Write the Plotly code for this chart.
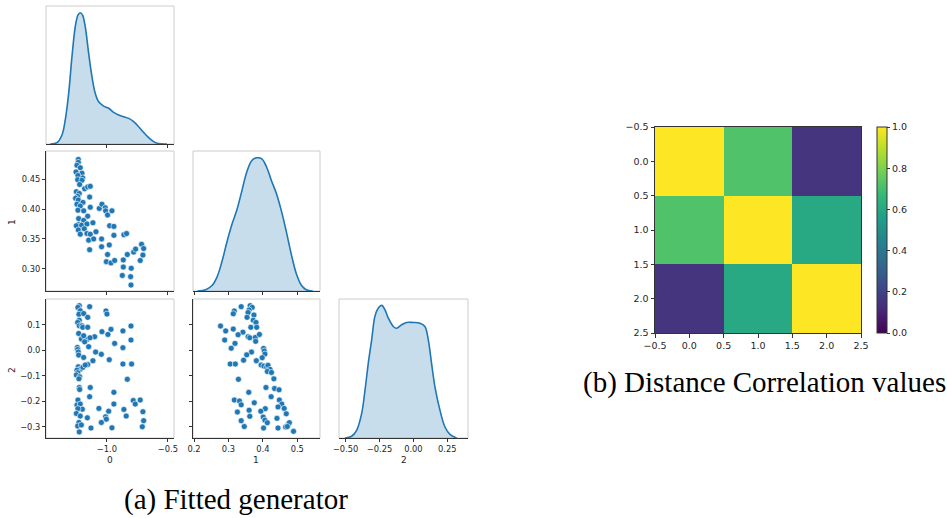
import plotly.graph_objects as go

# ---------------- data ----------------
# Pair plot, panel row 2 / col 1 : variable 0 (x) vs variable 1 (y)
p01_x0 = [-1.235, -1.235, -1.246, -1.219, -1.254, -1.205, -1.238, -1.199, -1.240, -1.205,
          -1.224, -1.183, -1.158, -1.137, -1.251, -1.227, -1.240, -1.257, -1.235, -1.142,
          -1.246, -1.197, -1.219, -1.238, -1.191, -1.137, -1.158, -1.232, -1.191, -1.232,
          -1.251, -1.208, -1.164, -1.115, -1.235, -1.219, -1.186, -1.164, -1.137, -1.150,
          -1.109, -1.090, -1.142, -1.063, -1.041, -1.014, -1.011, -0.995, -0.959, -0.978,
          -0.943, -0.943, -1.044, -1.044, -0.981, -0.995, -1.005, -0.967, -0.937, -0.861,
          -0.839, -0.866, -0.833, -0.866, -0.874, -0.801, -0.781, -0.765, -0.716, -0.699,
          -0.705, -0.727, -0.806, -0.803]
p01_x1 = [0.483, 0.478, 0.473, 0.469, 0.462, 0.460, 0.456, 0.452, 0.449, 0.448,
          0.441, 0.434, 0.437, 0.438, 0.429, 0.426, 0.421, 0.418, 0.415, 0.420,
          0.408, 0.411, 0.405, 0.398, 0.397, 0.403, 0.388, 0.384, 0.381, 0.374,
          0.372, 0.373, 0.375, 0.377, 0.365, 0.358, 0.367, 0.359, 0.358, 0.348,
          0.350, 0.362, 0.332, 0.401, 0.408, 0.402, 0.397, 0.390, 0.397, 0.372,
          0.371, 0.356, 0.350, 0.337, 0.340, 0.324, 0.312, 0.310, 0.314, 0.357,
          0.359, 0.315, 0.324, 0.303, 0.289, 0.301, 0.328, 0.333, 0.341, 0.334,
          0.323, 0.314, 0.287, 0.273]

# Pair plot, panel row 3 / col 1 : variable 0 (x) vs variable 2 (y)
p02_x0 = [-1.227, -1.238, -1.219, -1.230, -1.227, -1.240, -1.227, -1.205, -1.199, -1.232,
          -1.210, -1.164, -1.191, -1.150, -1.183, -1.243, -1.240, -1.235, -1.232, -1.191,
          -1.235, -1.219, -1.246, -1.240, -1.251, -1.224, -1.230, -1.197, -1.158, -1.227,
          -1.224, -1.238, -1.246, -1.219, -1.202, -1.238, -1.251, -1.219, -1.230, -1.240,
          -1.210, -1.227, -1.161, -1.142, -1.191, -1.158, -1.158, -1.101, -1.139, -1.178,
          -1.115, -1.093, -1.046, -1.041, -1.008, -1.000, -0.967, -0.992, -0.937, -0.981,
          -0.869, -0.869, -0.833, -0.869, -0.803, -0.803, -0.798, -1.137, -1.142, -0.943,
          -1.066, -0.986, -1.046, -1.011, -1.005, -0.959, -0.943, -0.861, -0.842, -0.784,
          -0.768, -0.727, -0.705, -0.699, -0.710, -1.131]
p02_x2 = [0.175, 0.168, 0.155, 0.141, 0.118, 0.109, 0.096, 0.096, 0.090, 0.066,
          0.044, 0.042, 0.057, 0.014, 0.033, 0.011, 0.003, -0.007, -0.019, -0.028,
          -0.065, -0.074, -0.078, -0.088, -0.097, -0.104, -0.112, -0.067, -0.056, -0.146,
          -0.154, -0.195, -0.215, -0.211, -0.231, -0.229, -0.248, -0.258, -0.283, -0.297,
          -0.293, -0.320, -0.265, 0.171, 0.144, 0.129, 0.090, 0.053, 0.049, -0.058,
          -0.041, -0.007, -0.016, 0.073, 0.154, 0.142, 0.082, 0.062, 0.027, -0.037,
          0.010, -0.054, -0.114, 0.076, 0.095, 0.040, -0.054, -0.146, -0.182, -0.165,
          -0.228, -0.239, -0.283, -0.261, -0.270, -0.304, -0.211, -0.232, -0.258, -0.197,
          -0.211, -0.195, -0.241, -0.276, -0.300, -0.305]

# Pair plot, panel row 3 / col 2 : variable 1 (x) vs variable 2 (y)
p12_x1 = [0.337, 0.317, 0.314, 0.363, 0.369, 0.360, 0.357, 0.374, 0.354, 0.372,
          0.380, 0.365, 0.382, 0.277, 0.292, 0.314, 0.342, 0.328, 0.357, 0.362,
          0.378, 0.390, 0.379, 0.289, 0.319, 0.308, 0.402, 0.404, 0.406, 0.398,
          0.367, 0.353, 0.344, 0.381, 0.305, 0.320, 0.395, 0.403, 0.411, 0.415,
          0.421, 0.413, 0.425, 0.432, 0.329, 0.409, 0.434, 0.447, 0.359, 0.424,
          0.317, 0.332, 0.337, 0.375, 0.448, 0.455, 0.462, 0.444, 0.407, 0.394,
          0.468, 0.326, 0.360, 0.362, 0.401, 0.406, 0.413, 0.441, 0.337, 0.346,
          0.402, 0.444, 0.466, 0.474, 0.477, 0.489, 0.471]
p12_x2 = [0.171, 0.154, 0.143, 0.175, 0.168, 0.158, 0.148, 0.138, 0.129, 0.118,
          0.109, 0.090, 0.090, 0.095, 0.076, 0.083, 0.071, 0.061, 0.053, 0.049,
          0.050, 0.062, 0.035, 0.040, 0.027, 0.008, 0.007, -0.003, -0.015, -0.029,
          -0.007, -0.018, -0.039, -0.041, -0.054, -0.054, -0.058, -0.062, -0.066, -0.059,
          -0.075, -0.083, -0.087, -0.112, -0.114, -0.146, -0.150, -0.155, -0.165, -0.182,
          -0.195, -0.199, -0.214, -0.206, -0.195, -0.211, -0.228, -0.222, -0.229, -0.239,
          -0.249, -0.242, -0.235, -0.259, -0.262, -0.274, -0.284, -0.267, -0.276, -0.299,
          -0.305, -0.305, -0.301, -0.290, -0.284, -0.318, -0.299]

# Diagonal KDE curves (relative density, peak = 1)
kde0_x = [-1.464, -1.41, -1.369, -1.342, -1.314, -1.287, -1.26, -1.238, -1.219, -1.20,
          -1.178, -1.15, -1.123, -1.096, -1.068, -1.027, -0.986, -0.945, -0.904, -0.863,
          -0.822, -0.781, -0.74, -0.70, -0.658, -0.617, -0.577, -0.508]
kde0_d = [0.0, 0.01, 0.069, 0.183, 0.386, 0.665, 0.893, 0.982, 1.0, 0.982,
          0.893, 0.69, 0.513, 0.386, 0.322, 0.289, 0.272, 0.241, 0.221, 0.208,
          0.195, 0.17, 0.132, 0.089, 0.048, 0.018, 0.003, 0.0]

kde1_x = [0.21, 0.234, 0.253, 0.267, 0.281, 0.296, 0.31, 0.325, 0.339, 0.353,
          0.368, 0.382, 0.397, 0.411, 0.425, 0.44, 0.454, 0.468, 0.483, 0.497,
          0.512, 0.526, 0.545]
kde1_d = [0.0, 0.01, 0.043, 0.106, 0.22, 0.372, 0.499, 0.613, 0.752, 0.891,
          0.98, 1.0, 0.992, 0.929, 0.828, 0.727, 0.6, 0.448, 0.271, 0.132,
          0.043, 0.01, 0.0]

kde2_x = [-0.505, -0.456, -0.419, -0.382, -0.357, -0.333, -0.308, -0.284, -0.259, -0.234,
          -0.21, -0.185, -0.148, -0.124, -0.087, -0.05, -0.001, 0.048, 0.085, 0.11,
          0.134, 0.159, 0.196, 0.233, 0.27, 0.319]
kde2_d = [0.0, 0.013, 0.058, 0.184, 0.361, 0.563, 0.74, 0.917, 0.98, 1.0,
          0.967, 0.904, 0.841, 0.828, 0.854, 0.871, 0.871, 0.866, 0.841, 0.74,
          0.563, 0.386, 0.21, 0.083, 0.028, 0.0]

# Distance correlation matrix
dcor_labels = [0, 1, 2]
dcor_values = [[1.00, 0.72, 0.15],
               [0.72, 1.00, 0.60],
               [0.15, 0.60, 1.00]]

caption_a = "(a) Fitted generator"
caption_b = "(b) Distance Correlation values"

# ---------------- layout helpers ----------------
W, H = 947, 518
BLUE = "#1f77b4"
FILL = "rgba(31,119,180,0.25)"
DARK = "#333333"
TXT = "#262626"
GRID_BOX = "#cccccc"
SERIF = "Liberation Serif, Times New Roman, DejaVu Serif, serif"


def xd(a, b):
    return [a / W, b / W]


def yd(top, bottom):
    return [1 - bottom / H, 1 - top / H]


COL = [xd(46, 174), xd(193, 320), xd(339, 468)]
ROW = [yd(6, 144), yd(151, 291), yd(299, 438)]

fig = go.Figure()

# KDE traces
for kx, kd, xa, ya in [(kde0_x, kde0_d, "x", "y"), (kde1_x, kde1_d, "x3", "y3"),
                       (kde2_x, kde2_d, "x6", "y6")]:
    fig.add_trace(go.Scatter(x=kx, y=kd, mode="lines", fill="tozeroy",
                             fillcolor=FILL, line=dict(color=BLUE, width=1.6, shape="spline"),
                             xaxis=xa, yaxis=ya, showlegend=False, hoverinfo="skip"))

mk = dict(color=BLUE, size=6, line=dict(color="white", width=0.6))
fig.add_trace(go.Scatter(x=p01_x0, y=p01_x1, mode="markers", marker=mk,
                         xaxis="x2", yaxis="y2", showlegend=False))
fig.add_trace(go.Scatter(x=p02_x0, y=p02_x2, mode="markers", marker=mk,
                         xaxis="x4", yaxis="y4", showlegend=False))
fig.add_trace(go.Scatter(x=p12_x1, y=p12_x2, mode="markers", marker=mk,
                         xaxis="x5", yaxis="y5", showlegend=False))

HFONT = dict(family="DejaVu Sans", size=9.5, color=TXT)
PFONT = dict(family="DejaVu Sans", size=8.3, color=TXT)

# Heatmap
fig.add_trace(go.Heatmap(
    z=dcor_values, x=dcor_labels, y=dcor_labels, zmin=0, zmax=1,
    colorscale="Viridis", xaxis="x7", yaxis="y7",
    colorbar=dict(
        x=877 / W, xanchor="left", xpad=0, ypad=0,
        y=1 - 230 / H, yanchor="middle",
        thickness=10, thicknessmode="pixels",
        len=206, lenmode="pixels",
        outlinecolor=DARK, outlinewidth=1,
        ticks="outside", ticklen=3, tickcolor=DARK,
        tickvals=[0, 0.2, 0.4, 0.6, 0.8, 1.0], tickformat=".1f",
        tickfont=HFONT,
    ),
    hoverinfo="skip"))


def ax(domain, rng, anchor, tickvals=None, ticktext=None, showlabels=True,
       showline=True):
    d = dict(domain=domain, range=rng, anchor=anchor, showgrid=False, zeroline=False,
             automargin=False,
             showline=showline, linecolor=DARK, linewidth=1,
             ticks="outside", ticklen=3, tickwidth=1, tickcolor=DARK,
             showticklabels=showlabels, tickfont=PFONT, fixedrange=True)
    if tickvals is not None:
        d["tickmode"] = "array"
        d["tickvals"] = tickvals
        if ticktext is not None:
            d["ticktext"] = ticktext
    else:
        d["showticklabels"] = False
        d["ticks"] = ""
    return d


c0_tv = [-1.0, -0.5]
c0_tt = ["\u22121.0", "\u22120.5"]
c0_rng = [-1.5, -0.45]
c1_tv = [0.2, 0.3, 0.4, 0.5]
c1_tt = ["0.2", "0.3", "0.4", "0.5"]
c1_rng = [0.197, 0.566]
c2_tv = [-0.5, -0.25, 0.0, 0.25]
c2_tt = ["\u22120.50", "\u22120.25", "0.00", "0.25"]
c2_rng = [-0.549, 0.403]
r1_tv = [0.30, 0.35, 0.40, 0.45]
r1_tt = ["0.30", "0.35", "0.40", "0.45"]
r1_rng = [0.263, 0.497]
r2_tv = [-0.3, -0.2, -0.1, 0.0, 0.1]
r2_tt = ["\u22120.3", "\u22120.2", "\u22120.1", "0.0", "0.1"]
r2_rng = [-0.344, 0.201]

hm_axis = dict(showgrid=False, zeroline=False, automargin=False, showline=True, mirror=True,
               linecolor=DARK, linewidth=1, ticks="outside", ticklen=3.5, tickcolor=DARK,
               tickmode="array", tickvals=[-0.5, 0, 0.5, 1, 1.5, 2, 2.5],
               ticktext=["\u22120.5", "0.0", "0.5", "1.0", "1.5", "2.0", "2.5"],
               tickfont=HFONT, fixedrange=True)

fig.update_layout(
    xaxis=ax(COL[0], c0_rng, "y", c0_tv, c0_tt, showlabels=False),
    yaxis=ax(ROW[0], [0, 1.051], "x", None, showline=False),
    xaxis2=ax(COL[0], c0_rng, "y2", c0_tv, c0_tt, showlabels=False),
    yaxis2=ax(ROW[1], r1_rng, "x2", r1_tv, r1_tt),
    xaxis3=ax(COL[1], c1_rng, "y3", c1_tv, c1_tt, showlabels=False),
    yaxis3=ax(ROW[1], [0, 1.051], "x3", None, showline=False),
    xaxis4=ax(COL[0], c0_rng, "y4", c0_tv, c0_tt),
    yaxis4=ax(ROW[2], r2_rng, "x4", r2_tv, r2_tt),
    xaxis5=ax(COL[1], c1_rng, "y5", c1_tv, c1_tt),
    yaxis5=ax(ROW[2], r2_rng, "x5", r2_tv, r2_tt, showlabels=False),
    xaxis6=ax(COL[2], c2_rng, "y6", c2_tv, c2_tt),
    yaxis6=ax(ROW[2], [0, 1.048], "x6", None, showline=False),
    xaxis7=dict(hm_axis, domain=xd(655, 861), range=[-0.5, 2.5], anchor="y7"),
    yaxis7=dict(hm_axis, domain=yd(127, 333), range=[2.5, -0.5], anchor="x7"),
    width=W, height=H, margin=dict(l=0, r=0, t=0, b=0, autoexpand=False),
    paper_bgcolor="white", plot_bgcolor="white",
    font=PFONT, showlegend=False,
)

# light frames around the pair-plot panels
shapes = []
for xa, ya in [("x", "y"), ("x2", "y2"), ("x3", "y3"), ("x4", "y4"), ("x5", "y5"), ("x6", "y6")]:
    shapes.append(dict(type="rect", xref=f"{xa} domain", yref=f"{ya} domain",
                       x0=0, x1=1, y0=0, y1=1, line=dict(color=GRID_BOX, width=1),
                       layer="below"))
fig.update_layout(shapes=shapes)

ann = []


def txt(text, x, y, size=9, angle=0, family="DejaVu Sans", color=TXT):
    ann.append(dict(text=text, x=x / W, y=1 - y / H, xref="paper", yref="paper",
                    showarrow=False, textangle=angle, xanchor="center", yanchor="middle",
                    font=dict(family=family, size=size, color=color)))


txt("0", 110, 460)
txt("1", 256, 460)
txt("2", 404, 460)
txt("1", 12, 222, angle=-90)
txt("2", 12, 370, angle=-90)
txt(caption_a, 236, 499, size=29, family=SERIF, color="black")
txt(caption_b, 764, 382, size=29, family=SERIF, color="black")
fig.update_layout(annotations=ann)

fig.write_html("out.html")
